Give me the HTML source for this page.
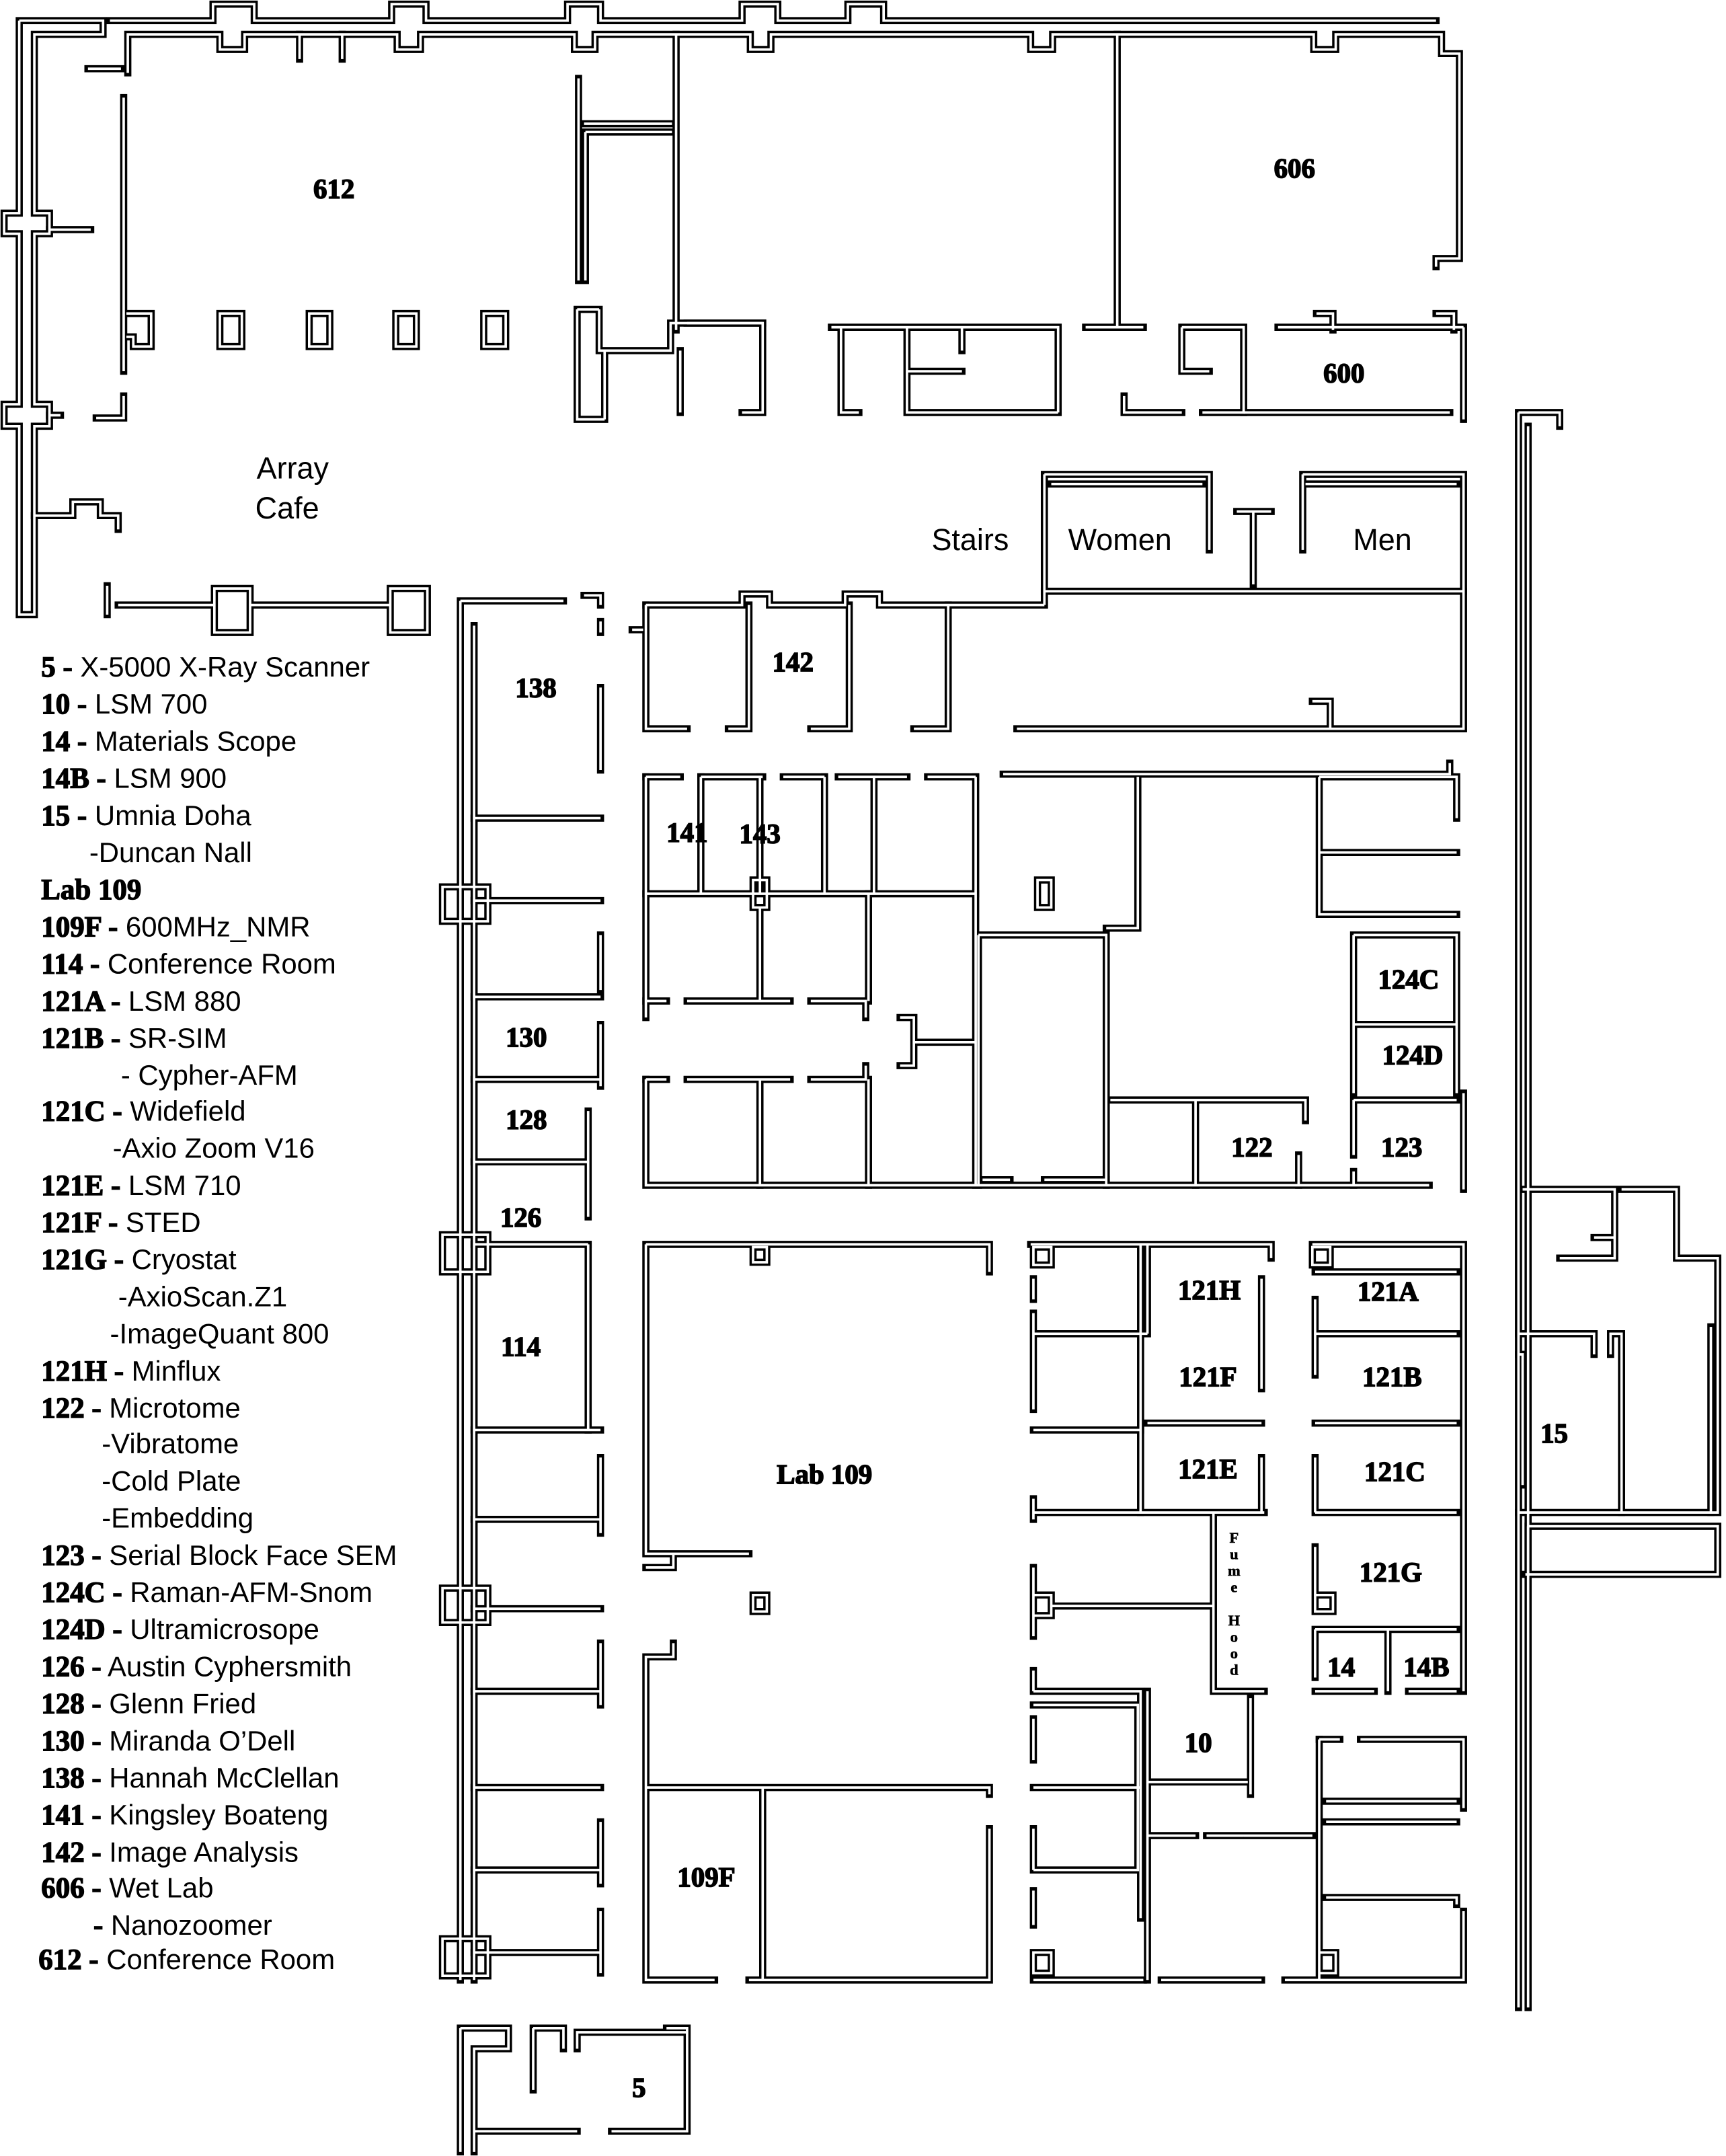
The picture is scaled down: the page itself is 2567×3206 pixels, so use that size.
<!DOCTYPE html>
<html><head><meta charset="utf-8"><style>
html,body{margin:0;padding:0;background:#fff;}
svg{display:block}
.lg{font-family:"Liberation Sans",sans-serif;font-size:20.5px;fill:#000}
.b{font-family:"Liberation Serif",serif;font-weight:bold;font-size:21px;stroke:#000;stroke-width:0.7}
.rm{font-family:"Liberation Serif",serif;font-weight:bold;font-size:20px;fill:#000;text-anchor:middle;stroke:#000;stroke-width:0.8}
.sn{font-family:"Liberation Sans",sans-serif;font-size:22px;fill:#000;text-anchor:middle}
</style></head><body>
<svg width="2567" height="3206" viewBox="0 0 1256 1568" preserveAspectRatio="none" xmlns="http://www.w3.org/2000/svg">
<defs>
<g id="w" fill="none">
<path d="M80,15 H155 V3 H185 V15 H285 V3 H310 V15 H413 V3 H437 V15 H540 V3 H566 V15 H617 V3 H643 V15 H1045"/>
<path d="M93,53 V25 H160 V36 H178 V25 H289 V36 H306 V25 H418 V36 H433 V25 H546 V36 H561 V25 H750 V36 H766 V25 H956 V36 H972 V25 H1049 V39 H1062 V188 H1045 V194"/>
<path d="M218,25 V43 M249,25 V43 M64,50 H88"/>
<path d="M14,15 V155 H3 V170 H14 V294 H3 V310 H14 V447 H25 V310 H36 V294 H25 V170 H36 V155 H25 V25 H75 V15 H14"/>
<path d="M36,167 H66 M36,302 H44"/>
<path d="M25,375 H53 V365 H73 V375 H86 V385"/>
<path d="M90,71 V270 M90,288 V304 H70"/>
<path d="M92,228 H110 V252 H97 V245 H92"/>
<path d="M160,228 H176 V252 H160 Z M225,228 H240 V252 H225 Z M288,228 H303 V252 H288 Z M352,228 H368 V252 H352 Z"/>
<path d="M78,426 V447 M86,440 H156 M156,428 H182 V460 H156 Z M182,440 H284 M284,428 H311 V460 H284 Z"/>
<path d="M421,57 V204 M425,90 H489 M426,96 H489 M426,96 V204"/>
<path d="M420,225 V305 H440 M420,225 H436 M436,225 V255 H488 V235 H555 V300 H540 M495,255 V300 M440,255 V305"/>
<path d="M492,25 V240 M500,235 H555"/>
<path d="M813,25 V238 M790,238 H832"/>
<path d="M605,238 H770 V300 M612,238 V300 H625 M660,238 V300 H770 M660,270 H700 M700,238 V255"/>
<path d="M860,238 H905 V300 H875 M860,238 V270 H880 M818,288 V300 H860"/>
<path d="M930,238 H1065 M958,228 H970 V240 M1045,228 H1058 V240 M905,300 H1055 M1065,238 V305"/>
<path d="M760,345 H880 V400 M765,352 H875 M760,345 V440 M948,345 H1065 V430 M950,352 H1060 M948,345 V400 M900,372 H925 M912,372 V425"/>
<path d="M760,430 H1065 V530 H740"/>
<path d="M470,440 H540 V432 H560 V440 H615 V432 H640 V440 H760"/>
<path d="M470,440 V530 H500 M545,440 V530 H530 M618,440 V530 H590 M690,440 V530 H665 M955,510 H968 V530"/>
<path d="M460,458 H468"/>
<path d="M470,565 H495 M510,565 H555 M570,565 H600 M610,565 H660 M675,565 H710 M730,563 H1055 V555"/>
<path d="M470,565 V740 M470,785 V862 H1040"/>
<path d="M510,565 V650 M553,565 V650 M600,565 V650 M636,565 V650 M470,650 H710"/>
<path d="M548,640 H558 V660 H548 Z M755,640 H765 V660 H755 Z"/>
<path d="M553,660 V728 M470,728 H485 M500,728 H575 M590,728 H630 V740 M632,650 V728"/>
<path d="M470,785 H485 M500,785 H575 M590,785 H630 V775 M553,785 V862 M632,785 V862"/>
<path d="M655,740 H665 V775 H655 M665,758 H710"/>
<path d="M710,565 V862 M712,680 H805 V862 M712,680 V862 M805,675 H828 V565"/>
<path d="M715,858 H735 M760,858 H805 M808,800 H950 V815 M870,800 V862 M945,840 V862"/>
<path d="M960,565 V665 H1060 M960,565 H1060 V595 M960,620 H1060 M960,640 V660"/>
<path d="M985,680 V795 M985,745 H1060 M985,680 H1060 V795 M985,800 H1060 M985,800 V840 M985,852 V862 M1065,795 V865"/>
<path d="M335,437 V1440 M345,455 V1440 M335,437 H410 M425,433 H437 V440 M437,452 V460 M437,500 V560"/>
<path d="M345,595 H437 M345,655 H437 M437,680 V720 M345,725 H437 M345,785 H437 M437,745 V790 M345,845 H428 M428,808 V885 M345,905 H428"/>
<path d="M345,1040 H437 M345,1105 H437 M437,1060 V1115 M345,1170 H437 M345,1230 H437 M437,1195 V1240 M345,1300 H437 M345,1360 H437 M437,1325 V1370 M345,1420 H437 M437,1390 V1435"/>
<path d="M322,645 H355 V670 H322 Z M322,898 H355 V925 H322 Z M322,1155 H355 V1180 H322 Z M322,1410 H355 V1437 H322 Z"/>
<path d="M428,905 V1040"/>
<path d="M470,905 H720 V925 M470,905 V1130 H545 M470,1140 H490 V1130 M548,907 H558 V918 H548 Z M548,1160 H558 V1172 H548 Z"/>
<path d="M490,1195 V1205 H470 V1440 H520 M545,1440 H720 V1330 M470,1300 H720 V1305 M555,1300 V1440"/>
<path d="M750,905 H925 V915 M752,907 H765 V920 H752 Z M752,930 V945 M752,955 V1025 M752,970 H835 M830,905 V1100 M835,905 V970 M918,930 V1010"/>
<path d="M752,1040 H830 M752,1090 V1105 M752,1100 H920 M835,1035 H918 M918,1060 V1100 M883,1100 V1230 H920"/>
<path d="M752,1140 V1190 M752,1160 H765 V1175 H752 Z M765,1168 H883"/>
<path d="M752,1215 V1230 M752,1230 H830 V1395 M752,1240 H828 V1360 H752 M752,1250 V1280 M752,1300 H830 M752,1330 V1360 M752,1375 V1400"/>
<path d="M835,1230 V1440 M835,1296 H908 M910,1235 V1305 M835,1335 H870 M878,1335 H905 M905,1335 H955"/>
<path d="M752,1420 H765 V1435 H752 Z M752,1440 H832 M845,1440 H918 M960,1420 H972 V1435 H960 Z M935,1440 H1065 V1390 M960,1440 V1265"/>
<path d="M960,1265 H975 M990,1265 H1065 V1315 M965,1310 H1060 M965,1325 H1060 M965,1380 H1060 V1385"/>
<path d="M955,905 H1065 V1230 M955,907 H968 V920 H955 Z M957,925 H1060 M957,945 V1000 M957,970 H1060 M957,1035 H1060 M957,1060 V1100 M957,1100 H1060 M957,1125 V1170 M957,1160 H970 V1172 H957 Z"/>
<path d="M957,1185 H1060 M1010,1185 V1230 M957,1230 H1000 M1025,1230 H1060 M957,1185 V1220"/>
<path d="M1105,300 H1135 V310 M1105,300 V1460 M1112,310 V1460"/>
<path d="M1108,865 H1175 V915 H1135 M1160,900 H1175 M1180,865 H1220 V915 H1250 V1100 H1105"/>
<path d="M1105,970 H1160 V985 M1172,985 V970 H1180 V1100 M1105,985 H1108 V1080 M1245,965 V1100"/>
<path d="M1112,1110 H1250 V1145 H1110 M1112,1110 V1145"/>
<path d="M335,1475 H370 V1490 H345 V1565 M335,1475 V1565 M388,1475 H410 V1490 M388,1475 V1520 M345,1550 H420 M445,1550 H500 V1475 H485 M500,1478 H420 V1490"/>
</g>
</defs>
<use href="#w" stroke="#000" stroke-width="5.2" stroke-linecap="square"/>
<use href="#w" stroke="#fff" stroke-width="1.8"/>

<g class="rm">
<text x="243" y="144">612</text>
<text x="942" y="129">606</text>
<text x="978" y="278">600</text>
<text x="390" y="507">138</text>
<text x="577" y="488">142</text>
<text x="500" y="612">141</text>
<text x="553" y="613">143</text>
<text x="1025" y="719">124C</text>
<text x="1028" y="774">124D</text>
<text x="383" y="761">130</text>
<text x="383" y="821">128</text>
<text x="911" y="841">122</text>
<text x="1020" y="841">123</text>
<text x="379" y="892">126</text>
<text x="880" y="945">121H</text>
<text x="1010" y="946">121A</text>
<text x="379" y="986">114</text>
<text x="879" y="1008">121F</text>
<text x="1013" y="1008">121B</text>
<text x="1131" y="1049">15</text>
<text x="600" y="1079">Lab 109</text>
<text x="879" y="1075">121E</text>
<text x="1015" y="1077">121C</text>
<text x="1012" y="1150">121G</text>
<text x="976" y="1219">14</text>
<text x="1038" y="1219">14B</text>
<text x="872" y="1274">10</text>
<text x="514" y="1372">109F</text>
<text x="465" y="1525">5</text>
</g>
<g class="rm" style="font-size:11px;stroke-width:0.3">
<text x="898" y="1122">F</text><text x="898" y="1134">u</text><text x="898" y="1146">m</text><text x="898" y="1158">e</text>
<text x="898" y="1182">H</text><text x="898" y="1194">o</text><text x="898" y="1206">o</text><text x="898" y="1218">d</text>
</g>
<g class="sn">
<text x="213" y="348">Array</text>
<text x="209" y="377">Cafe</text>
<text x="706" y="400">Stairs</text>
<text x="815" y="400">Women</text>
<text x="1006" y="400">Men</text>
</g>

<g class="lg">
<text x="30" y="492"><tspan class="b">5 -</tspan> X-5000 X-Ray Scanner</text>
<text x="30" y="519"><tspan class="b">10 -</tspan> LSM 700</text>
<text x="30" y="546"><tspan class="b">14 -</tspan> Materials Scope</text>
<text x="30" y="573"><tspan class="b">14B -</tspan> LSM 900</text>
<text x="30" y="600"><tspan class="b">15 -</tspan> Umnia Doha</text>
<text x="65" y="627">-Duncan Nall</text>
<text x="30" y="654" class="b">Lab 109</text>
<text x="30" y="681"><tspan class="b">109F -</tspan> 600MHz_NMR</text>
<text x="30" y="708"><tspan class="b">114 -</tspan> Conference Room</text>
<text x="30" y="735"><tspan class="b">121A -</tspan> LSM 880</text>
<text x="30" y="762"><tspan class="b">121B -</tspan> SR-SIM</text>
<text x="88" y="789">- Cypher-AFM</text>
<text x="30" y="815"><tspan class="b">121C -</tspan> Widefield</text>
<text x="82" y="842">-Axio Zoom V16</text>
<text x="30" y="869"><tspan class="b">121E -</tspan> LSM 710</text>
<text x="30" y="896"><tspan class="b">121F -</tspan> STED</text>
<text x="30" y="923"><tspan class="b">121G -</tspan> Cryostat</text>
<text x="86" y="950">-AxioScan.Z1</text>
<text x="80" y="977">-ImageQuant 800</text>
<text x="30" y="1004"><tspan class="b">121H -</tspan> Minflux</text>
<text x="30" y="1031"><tspan class="b">122 -</tspan> Microtome</text>
<text x="74" y="1057">-Vibratome</text>
<text x="74" y="1084">-Cold Plate</text>
<text x="74" y="1111">-Embedding</text>
<text x="30" y="1138"><tspan class="b">123 -</tspan> Serial Block Face SEM</text>
<text x="30" y="1165"><tspan class="b">124C -</tspan> Raman-AFM-Snom</text>
<text x="30" y="1192"><tspan class="b">124D -</tspan> Ultramicrosope</text>
<text x="30" y="1219"><tspan class="b">126 -</tspan> Austin Cyphersmith</text>
<text x="30" y="1246"><tspan class="b">128 -</tspan> Glenn Fried</text>
<text x="30" y="1273"><tspan class="b">130 -</tspan> Miranda O’Dell</text>
<text x="30" y="1300"><tspan class="b">138 -</tspan> Hannah McClellan</text>
<text x="30" y="1327"><tspan class="b">141 -</tspan> Kingsley Boateng</text>
<text x="30" y="1354"><tspan class="b">142 -</tspan> Image Analysis</text>
<text x="30" y="1380"><tspan class="b">606 -</tspan> Wet Lab</text>
<text x="68" y="1407"><tspan class="b">-</tspan> Nanozoomer</text>
<text x="28" y="1432"><tspan class="b">612 -</tspan> Conference Room</text>
</g>
</svg>
</body></html>
